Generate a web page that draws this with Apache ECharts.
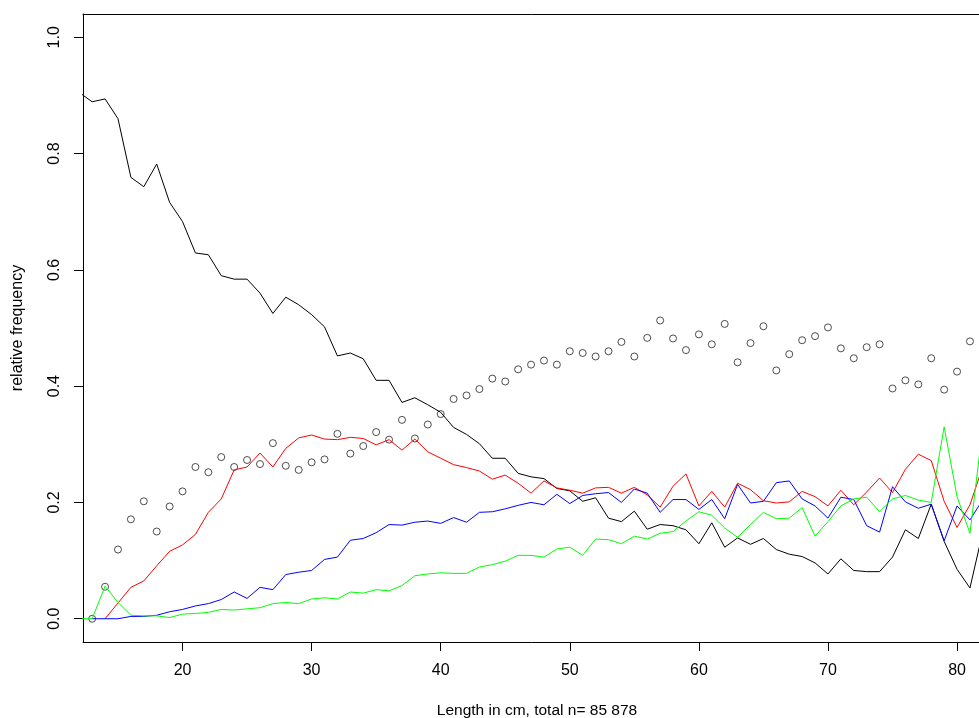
<!DOCTYPE html>
<html>
<head>
<meta charset="utf-8">
<script src="https://cdn.jsdelivr.net/npm/echarts@6/dist/echarts.min.js"></script>
<style>
  html, body { margin: 0; padding: 0; background: #ffffff; }
  #chart { width: 979px; height: 718px; }
</style>
</head>
<body>
<div id="chart"></div>
<script>
// Lengths (cm) for the lines, 12..82
const lengths = [12,13,14,15,16,17,18,19,20,21,22,23,24,25,26,27,28,29,30,31,32,33,34,35,36,37,38,39,40,41,42,43,44,45,46,47,48,49,50,51,52,53,54,55,56,57,58,59,60,61,62,63,64,65,66,67,68,69,70,71,72,73,74,75,76,77,78,79,80,81,82];

const blackSeries = [0.905,0.889,0.894,0.860,0.759,0.743,0.782,0.716,0.683,0.629,0.626,0.590,0.584,0.584,0.560,0.525,0.553,0.540,0.523,0.502,0.452,0.457,0.447,0.410,0.410,0.372,0.380,0.368,0.355,0.329,0.317,0.301,0.276,0.276,0.250,0.244,0.241,0.224,0.220,0.202,0.208,0.173,0.167,0.185,0.154,0.162,0.160,0.153,0.129,0.165,0.123,0.139,0.128,0.138,0.119,0.111,0.107,0.096,0.077,0.103,0.083,0.081,0.081,0.106,0.153,0.138,0.197,0.133,0.085,0.053,0.150];

const redSeries = [null,null,0.000,0.027,0.054,0.065,0.091,0.116,0.127,0.145,0.183,0.206,0.256,0.261,0.285,0.261,0.293,0.311,0.316,0.309,0.308,0.312,0.310,0.299,0.308,0.290,0.309,0.287,0.276,0.265,0.260,0.254,0.240,0.247,0.233,0.216,0.237,0.225,0.221,0.216,0.225,0.226,0.216,0.226,0.213,0.192,0.228,0.249,0.194,0.219,0.192,0.233,0.222,0.203,0.199,0.201,0.219,0.210,0.194,0.221,0.196,0.218,0.242,0.217,0.257,0.283,0.272,0.202,0.157,0.196,0.262];

const blueSeries = [null,0.000,0.000,0.000,0.004,0.004,0.006,0.012,0.016,0.022,0.026,0.033,0.046,0.035,0.054,0.050,0.076,0.080,0.083,0.102,0.106,0.135,0.138,0.148,0.162,0.161,0.166,0.168,0.164,0.174,0.166,0.183,0.184,0.189,0.195,0.200,0.196,0.214,0.198,0.212,0.215,0.217,0.200,0.223,0.216,0.183,0.205,0.205,0.188,0.205,0.172,0.231,0.199,0.202,0.234,0.237,0.206,0.194,0.173,0.209,0.205,0.160,0.149,0.227,0.201,0.190,0.197,0.134,0.194,0.170,0.205];

const greenSeries = [0.000,0.000,0.056,0.028,0.006,0.005,0.005,0.002,0.008,0.009,0.011,0.016,0.015,0.017,0.019,0.026,0.028,0.026,0.034,0.036,0.034,0.046,0.044,0.050,0.048,0.057,0.074,0.077,0.079,0.078,0.078,0.089,0.093,0.099,0.109,0.109,0.106,0.120,0.123,0.109,0.137,0.136,0.129,0.142,0.137,0.147,0.150,0.168,0.184,0.178,0.156,0.140,0.162,0.183,0.172,0.173,0.191,0.142,0.167,0.194,0.206,0.209,0.184,0.206,0.212,0.204,0.200,0.330,0.210,0.147,0.330];

// Open circles, lengths 13..81
const circleLengths = [13,14,15,16,17,18,19,20,21,22,23,24,25,26,27,28,29,30,31,32,33,34,35,36,37,38,39,40,41,42,43,44,45,46,47,48,49,50,51,52,53,54,55,56,57,58,59,60,61,62,63,64,65,66,67,68,69,70,71,72,73,74,75,76,77,78,79,80,81];
const circleValues = [0.000,0.055,0.119,0.171,0.202,0.150,0.193,0.219,0.261,0.252,0.278,0.261,0.273,0.266,0.302,0.263,0.256,0.269,0.274,0.318,0.284,0.297,0.321,0.308,0.342,0.310,0.334,0.352,0.378,0.384,0.395,0.413,0.408,0.429,0.437,0.444,0.437,0.460,0.457,0.451,0.460,0.476,0.451,0.483,0.513,0.482,0.462,0.489,0.472,0.507,0.441,0.474,0.503,0.427,0.455,0.479,0.486,0.501,0.465,0.448,0.467,0.472,0.396,0.410,0.403,0.448,0.394,0.425,0.477];

const xTickValues = [20,30,40,50,60,70,80];
const xTickLabels = ['20','30','40','50','60','70','80'];
const yTickValues = [0,0.2,0.4,0.6,0.8,1.0];
const yTickLabels = ['0.0','0.2','0.4','0.6','0.8','1.0'];

const xTitle = 'Length in cm, total n= 85 878';
const yTitle = 'relative frequency';

function pairs(xs, ys) { return xs.map((x, i) => [x, ys[i]]); }

const FONT = "'Liberation Sans', Arial, sans-serif";
const chart = echarts.init(document.getElementById('chart'), null, { renderer: 'canvas' });

function lineSeries(values, color) {
  return {
    type: 'line',
    data: pairs(lengths, values),
    showSymbol: false,
    symbol: 'none',
    connectNulls: false,
    clip: true,
    lineStyle: { color: color, width: 1 },
    itemStyle: { color: color },
    emphasis: { disabled: true },
    animation: false
  };
}

chart.setOption({
  animation: false,
  backgroundColor: '#ffffff',
  grid: { left: 83, right: -12, top: 14, bottom: 76, containLabel: false, outerBoundsMode: 'none' },
  xAxis: [{
    type: 'value',
    min: 12.29,
    max: 82.63,
    position: 'bottom',
    splitLine: { show: false },
    axisLine: { show: true, onZero: false, lineStyle: { color: '#000', width: 1 } },
    axisTick: { show: true, inside: false, length: 9, customValues: xTickValues, lineStyle: { color: '#000' } },
    axisLabel: {
      show: true, margin: 21, customValues: xTickValues,
      formatter: v => xTickLabels[xTickValues.indexOf(v)] ?? '',
      color: '#000', fontFamily: FONT, fontSize: 16
    },
    name: xTitle,
    nameLocation: 'middle',
    nameGap: 61,
    nameTextStyle: { color: '#000', fontFamily: FONT, fontSize: 15.5 }
  }, {
    type: 'value',
    min: 12.29,
    max: 82.63,
    position: 'top',
    splitLine: { show: false },
    axisLine: { show: true, onZero: false, lineStyle: { color: '#000', width: 1 } },
    axisTick: { show: false },
    axisLabel: { show: false }
  }],
  yAxis: {
    type: 'value',
    min: -0.04,
    max: 1.04,
    splitLine: { show: false },
    axisLine: { show: true, onZero: false, lineStyle: { color: '#000', width: 1 } },
    axisTick: { show: true, inside: false, length: 9, customValues: yTickValues, lineStyle: { color: '#000' } },
    axisLabel: {
      show: true, margin: 20, rotate: 90, customValues: yTickValues,
      formatter: v => yTickLabels[yTickValues.findIndex(t => Math.abs(t - v) < 1e-9)] ?? '',
      color: '#000', fontFamily: FONT, fontSize: 16
    },
    name: yTitle,
    nameLocation: 'middle',
    nameGap: 57,
    nameTextStyle: { color: '#000', fontFamily: FONT, fontSize: 16 }
  },
  series: [
    {
      type: 'scatter',
      data: pairs(circleLengths, circleValues),
      symbol: 'circle',
      symbolSize: 7,
      clip: true,
      itemStyle: { color: 'rgba(255,255,255,0)', borderColor: '#222222', borderWidth: 1 },
      emphasis: { disabled: true },
      animation: false
    },
    lineSeries(blackSeries, '#000000'),
    lineSeries(redSeries, '#ff0000'),
    lineSeries(blueSeries, '#0000ff'),
    lineSeries(greenSeries, '#00ff00')
  ]
});
</script>
</body>
</html>
